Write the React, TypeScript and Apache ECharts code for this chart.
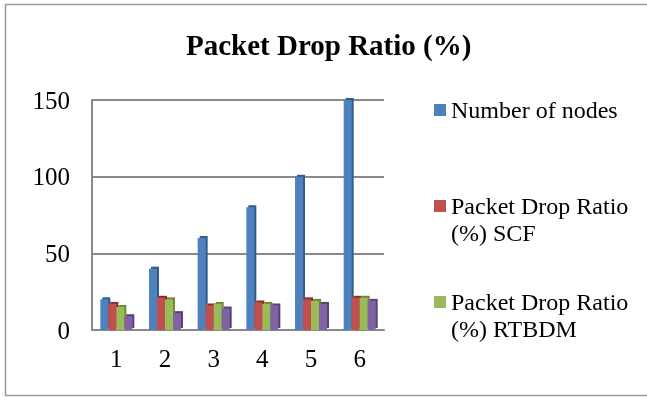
import React, { useEffect, useRef } from "react";
import * as echarts from "echarts";

const categories = ["1", "2", "3", "4", "5", "6"];
const seriesNames = [
  "Number of nodes",
  "Packet Drop Ratio (%) SCF",
  "Packet Drop Ratio (%) RTBDM",
  "Packet Drop Ratio (%) Proposed",
];
const nodesValues = [20, 40, 60, 80, 100, 150];
const scfValues = [17, 21, 16, 18, 20, 21];
const rtbdmValues = [15, 20, 17, 17, 19, 21];
const proposedValues = [9, 11, 14, 16, 17, 19];
const legendLines = [
  ["Number of nodes"],
  ["Packet Drop Ratio", "(%) SCF"],
  ["Packet Drop Ratio", "(%) RTBDM"],
];
const colors = ["#4F81BD", "#C0504D", "#9BBB59", "#8064A2"];
const sideColors = ["#2E5C8F", "#8C2E2B", "#6E8A35", "#574375"];

const FONT = "'Liberation Serif', 'Times New Roman', serif";

export default function App() {
  const ref = useRef<HTMLDivElement>(null);
  useEffect(() => {
    if (!ref.current) return;
    const chart = echarts.init(ref.current, undefined, { renderer: "svg" });
    const values = [nodesValues, scfValues, rtbdmValues, proposedValues];
    const legendTops = [96, 192, 288];
    const graphics: any[] = [
      {
        type: "rect",
        shape: { x: 5.5, y: 4.5, width: 660, height: 391 },
        style: { fill: "none", stroke: "#9a9a9a", lineWidth: 1.5 },
        silent: true,
      },
    ];
    legendLines.forEach((lines, i) => {
      graphics.push({
        type: "rect",
        shape: { x: 434, y: legendTops[i] + 8, width: 12, height: 12 },
        style: { fill: colors[i] },
      });
      graphics.push({
        type: "text",
        x: 451,
        y: legendTops[i],
        style: {
          text: lines.join("\n"),
          font: `24px ${FONT}`,
          lineHeight: 27,
          fill: "#000",
          textVerticalAlign: "top",
          verticalAlign: "top",
        },
      });
    });
    chart.setOption({
      animation: false,
      title: {
        text: "Packet Drop Ratio (%)",
        left: 181,
        top: 25,
        textStyle: {
          fontFamily: FONT,
          fontSize: 29,
          fontWeight: "bold",
          color: "#000",
        },
      },
      grid: { left: 92, right: 263, top: 100, bottom: 68 },
      xAxis: {
        type: "category",
        data: categories,
        axisLine: { show: true, lineStyle: { color: "#898989", width: 2 } },
        axisTick: { show: false },
        axisLabel: {
          fontFamily: FONT,
          fontSize: 25,
          color: "#000",
          margin: 16,
        },
      },
      yAxis: {
        type: "value",
        min: 0,
        max: 150,
        interval: 50,
        axisLine: { show: true, lineStyle: { color: "#898989", width: 2 } },
        axisTick: { show: false },
        splitLine: { show: true, lineStyle: { color: "#898989", width: 2 } },
        axisLabel: {
          fontFamily: FONT,
          fontSize: 25,
          color: "#000",
          margin: 22,
        },
      },
      series: seriesNames.map((name, i) => ({
        name,
        type: "bar",
        data: values[i],
        barWidth: 8,
        barGap: "0%",
        itemStyle: {
          color: colors[i],
          shadowColor: sideColors[i],
          shadowOffsetX: 2,
          shadowOffsetY: -2,
          shadowBlur: 0,
        },
      })),
      graphic: graphics,
    });
    return () => chart.dispose();
  }, []);
  return (
    <div
      ref={ref}
      style={{ position: "fixed", left: 0, top: 0, width: 647, height: 398 }}
    />
  );
}
